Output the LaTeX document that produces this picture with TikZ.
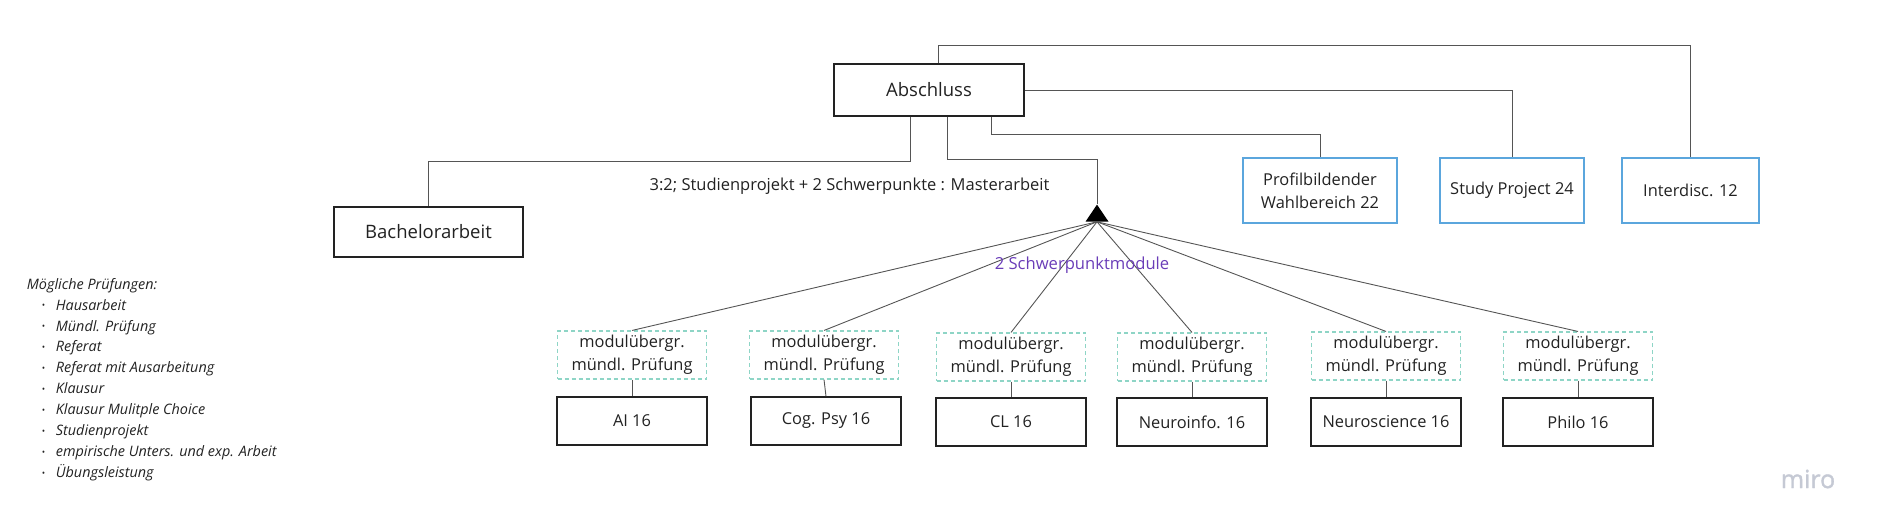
\documentclass[tikz,border=0pt]{standalone}
\usepackage{fontspec}
\setmainfont{Open Sans}
\usetikzlibrary{shapes.geometric}
\definecolor{linienfarbe}{HTML}{555555}
\definecolor{blaurand}{HTML}{5BA6DD}
\definecolor{mintrand}{HTML}{8ED5C6}
\definecolor{lila}{HTML}{6A3DB8}
\definecolor{schrift}{HTML}{222222}
\definecolor{logo}{HTML}{C5C9D4}
\newcommand{\punkt}{\hspace*{15pt}\makebox[14pt][l]{\upshape\raisebox{1.2pt}{\fontsize{9}{9}\selectfont\textbullet}}}

\begin{document}
\begin{tikzpicture}[x=1pt, y=-1pt,
  kasten/.style={draw=schrift, line width=1.3pt, text=schrift, inner sep=0pt, align=center, font=\fontsize{16.4}{23}\selectfont},
  gross/.style={kasten, font=\fontsize{18.5}{24}\selectfont},
  blau/.style={kasten, draw=blaurand, minimum height=65pt},
  pruefung/.style={kasten, draw=mintrand, dash pattern=on 4pt off 3pt, line width=1.1pt, minimum width=149pt, minimum height=48pt},
  modul/.style={kasten, minimum width=150pt, minimum height=48pt},
  verbindung/.style={draw=linienfarbe, line width=0.9pt}]
\useasboundingbox (0,0) rectangle (1882,531);
\node[gross, minimum width=190pt, minimum height=52pt] (abschluss) at (929,90) {Abschluss};
\node[gross, minimum width=189pt, minimum height=50pt] (bachelor) at (428.5,232) {Bachelorarbeit};
\node[blau, minimum width=154pt] (profil) at (1320,190.5) {Profilbildender\\Wahlbereich 22};
\node[blau, minimum width=144pt] (project) at (1512,190.5) {Study Project 24};
\node[blau, minimum width=137pt] (interdisc) at (1690.5,190.5) {Interdisc. 12};
\node[isosceles triangle, isosceles triangle stretches, shape border rotate=90, fill=black, inner sep=0pt, minimum width=23pt, minimum height=17pt] (spitze) at (1097,215.5) {};
\node[text=schrift, font=\fontsize{16.5}{20}\selectfont] (verhaeltnis) at (849.5,186) {3:2; Studienprojekt + 2 Schwerpunkte : Masterarbeit};

\draw[verbindung] ([xshift=9pt]abschluss.north) -- ++(0,-18) -| (interdisc.north);
\draw[verbindung] (abschluss.east) -| (project.north);
\draw[verbindung] ([xshift=62pt]abschluss.south) -- ++(0,18) -| (profil.north);
\draw[verbindung] ([xshift=-19pt]abschluss.south) -- ++(0,45) -| (bachelor.north);
\draw[verbindung] ([xshift=18.5pt]abschluss.south) -- ++(0,43) -| (spitze.apex);

\node[pruefung] (mp1) at (632,355) {modulübergr.\\mündl. Prüfung};
\node[pruefung] (mp2) at (824,355) {modulübergr.\\mündl. Prüfung};
\node[pruefung] (mp3) at (1011,357) {modulübergr.\\mündl. Prüfung};
\node[pruefung] (mp4) at (1192,357) {modulübergr.\\mündl. Prüfung};
\node[pruefung] (mp5) at (1386,356) {modulübergr.\\mündl. Prüfung};
\node[pruefung] (mp6) at (1578,356) {modulübergr.\\mündl. Prüfung};
\node[modul] (ai) at (632,421) {AI 16};
\node[modul] (cogpsy) at (826,421) {Cog. Psy 16};
\node[modul] (cl) at (1011,422) {CL 16};
\node[modul] (neuroinfo) at (1192,422) {Neuroinfo. 16};
\node[modul] (neurosci) at (1386,422) {Neuroscience 16};
\node[modul] (philo) at (1578,422) {Philo 16};

\draw[verbindung] (spitze.lower side) -- (mp1.north);
\draw[verbindung] (spitze.lower side) -- (mp2.north);
\draw[verbindung] (spitze.lower side) -- (mp3.north);
\draw[verbindung] (spitze.lower side) -- (mp4.north);
\draw[verbindung] (spitze.lower side) -- (mp5.north);
\draw[verbindung] (spitze.lower side) -- (mp6.north);
\draw[verbindung] (mp1.south) -- (ai.north);
\draw[verbindung] (mp2.south) -- (cogpsy.north);
\draw[verbindung] (mp3.south) -- (cl.north);
\draw[verbindung] (mp4.south) -- (neuroinfo.north);
\draw[verbindung] (mp5.south) -- (neurosci.north);
\draw[verbindung] (mp6.south) -- (philo.north);

\node[text=lila, font=\fontsize{16.6}{20}\selectfont] (schwerpunkte) at (1082,265) {2 Schwerpunktmodule};
\node[anchor=north west, inner sep=0pt, align=left, text=schrift, font=\itshape\fontsize{14.4}{20.9}\selectfont] (pruefungen) at (26.7,278) {Mögliche Prüfungen:\\\punkt Hausarbeit\\\punkt Mündl. Prüfung\\\punkt Referat\\\punkt Referat mit Ausarbeitung\\\punkt Klausur\\\punkt Klausur Mulitple Choice\\\punkt Studienprojekt\\\punkt empirische Unters. und exp. Arbeit\\\punkt Übungsleistung};
\node[text=logo, font=\fontsize{25}{25}\selectfont\addfontfeature{FakeBold=1.5}] (miro) at (1808,479) {miro};
\end{tikzpicture}
\end{document}
